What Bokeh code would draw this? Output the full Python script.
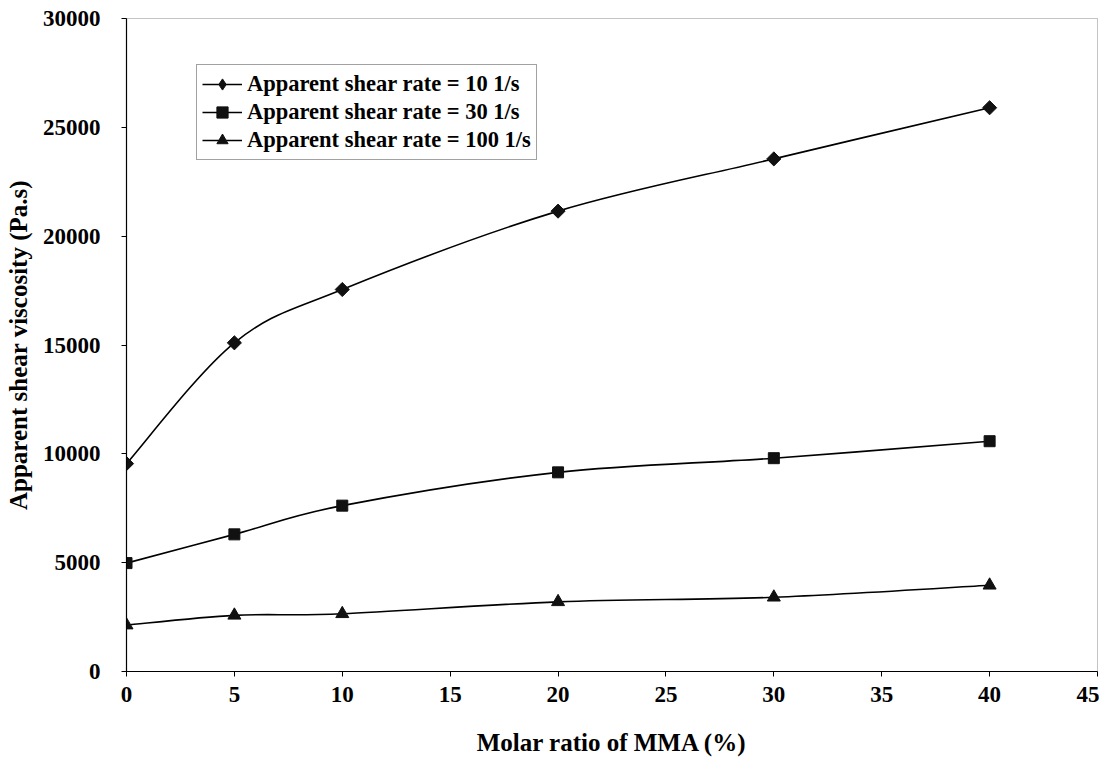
import numpy as np
from bokeh.plotting import figure
from bokeh.models import Range1d, FixedTicker, Legend, LegendItem, ColumnDataSource
from bokeh.embed import file_html
from bokeh.resources import INLINE

# ---- data ----
mma_ratio = [0, 5, 10, 20, 30, 40]
visc_10 = [9550, 15100, 17550, 21150, 23550, 25900]
visc_30 = [4980, 6300, 7620, 9150, 9800, 10580]
visc_100 = [2130, 2580, 2650, 3200, 3410, 3960]

series_labels = ["Apparent shear rate = 10 1/s",
                 "Apparent shear rate = 30 1/s",
                 "Apparent shear rate = 100 1/s"]
x_ticks = [0, 5, 10, 15, 20, 25, 30, 35, 40, 45]
y_ticks = [0, 5000, 10000, 15000, 20000, 25000, 30000]

FONT = "Liberation Serif"

p = figure(width=1099, height=760, output_backend="svg", toolbar_location=None,
           x_range=Range1d(0, 45), y_range=Range1d(0, 30000),
           min_border_left=126, min_border_top=18, min_border_right=2, min_border_bottom=89)
p.background_fill_color = "white"
p.border_fill_color = "white"
p.grid.visible = False
p.outline_line_color = "#888888"
p.outline_line_dash = "1 1"
p.outline_line_width = 1

for ax in (p.xaxis[0], p.yaxis[0]):
    ax.axis_line_color = "black"
    ax.axis_line_width = 1.2
    ax.major_tick_line_color = "black"
    ax.major_tick_out = 5
    ax.major_tick_in = 0
    ax.minor_tick_out = 0
    ax.minor_tick_in = 0
    ax.major_label_text_font = FONT
    ax.major_label_text_font_style = "bold"
    ax.major_label_text_font_size = "23px"
    ax.major_label_text_color = "black"
    ax.axis_label_text_font = FONT
    ax.axis_label_text_font_style = "bold"
    ax.axis_label_text_font_size = "25px"
    ax.axis_label_text_color = "black"

p.xaxis.ticker = FixedTicker(ticks=x_ticks)
p.yaxis.ticker = FixedTicker(ticks=y_ticks)
p.xaxis.axis_label = "Molar ratio of MMA (%)"
p.yaxis.axis_label = "Apparent shear viscosity (Pa.s)"
p.xaxis.major_label_standoff = 10
p.yaxis.major_label_standoff = 21
p.xaxis.axis_label_standoff = 24
p.yaxis.axis_label_standoff = 8


def smooth_segments(xs, ys):
    """Catmull-Rom style cubic Bezier segments through the data points."""
    xs = np.asarray(xs, float)
    ys = np.asarray(ys, float)
    n = len(xs)
    xp = np.concatenate([[xs[0]], xs, [xs[-1]]])
    yp = np.concatenate([[ys[0]], ys, [ys[-1]]])
    seg = dict(x0=[], y0=[], x1=[], y1=[], cx0=[], cy0=[], cx1=[], cy1=[])
    for i in range(n - 1):
        p0x, p0y = xp[i], yp[i]
        p1x, p1y = xp[i + 1], yp[i + 1]
        p2x, p2y = xp[i + 2], yp[i + 2]
        p3x, p3y = xp[i + 3], yp[i + 3]
        seg["x0"].append(p1x); seg["y0"].append(p1y)
        seg["x1"].append(p2x); seg["y1"].append(p2y)
        seg["cx0"].append(p1x + (p2x - p0x) / 6.0)
        seg["cy0"].append(p1y + (p2y - p0y) / 6.0)
        seg["cx1"].append(p2x - (p3x - p1x) / 6.0)
        seg["cy1"].append(p2y - (p3y - p1y) / 6.0)
    return ColumnDataSource(seg)


# (values, plot marker, size, angle in degrees, legend marker)
series = [(visc_10, "square", 10, 45, "diamond"),
          (visc_30, "square", 11, 0, "square"),
          (visc_100, "triangle", 13, 0, "triangle")]
items = []
for (vals, marker, size, ang, leg_marker), lab in zip(series, series_labels):
    src = smooth_segments(mma_ratio, vals)
    br = p.bezier(x0="x0", y0="y0", x1="x1", y1="y1", cx0="cx0", cy0="cy0",
                  cx1="cx1", cy1="cy1", source=src, line_color="black", line_width=1.6)
    p.scatter(mma_ratio, vals, marker=marker, size=size, angle=np.deg2rad(ang),
              fill_color="#111111", line_color="#111111")
    # legend-only marker (legend swatches ignore marker rotation); NaN point is not drawn
    lr = p.scatter(x=[np.nan], y=[np.nan], marker=leg_marker, size=size,
                   fill_color="#111111", line_color="#111111")
    items.append(LegendItem(label=lab, renderers=[br, lr], index=0))

legend = Legend(items=items, location=(70, 511))
legend.label_text_font = FONT
legend.label_text_font_style = "bold"
legend.label_text_font_size = "22.5px"
legend.label_text_color = "black"
legend.border_line_color = "#444444"
legend.border_line_width = 1
legend.background_fill_color = "white"
legend.glyph_width = 40
legend.glyph_height = 28
legend.label_height = 28
legend.label_standoff = 5
legend.spacing = 0
legend.padding = 5
legend.margin = 0
p.add_layout(legend, "center")

open("out.html", "w").write(file_html(p, INLINE))
